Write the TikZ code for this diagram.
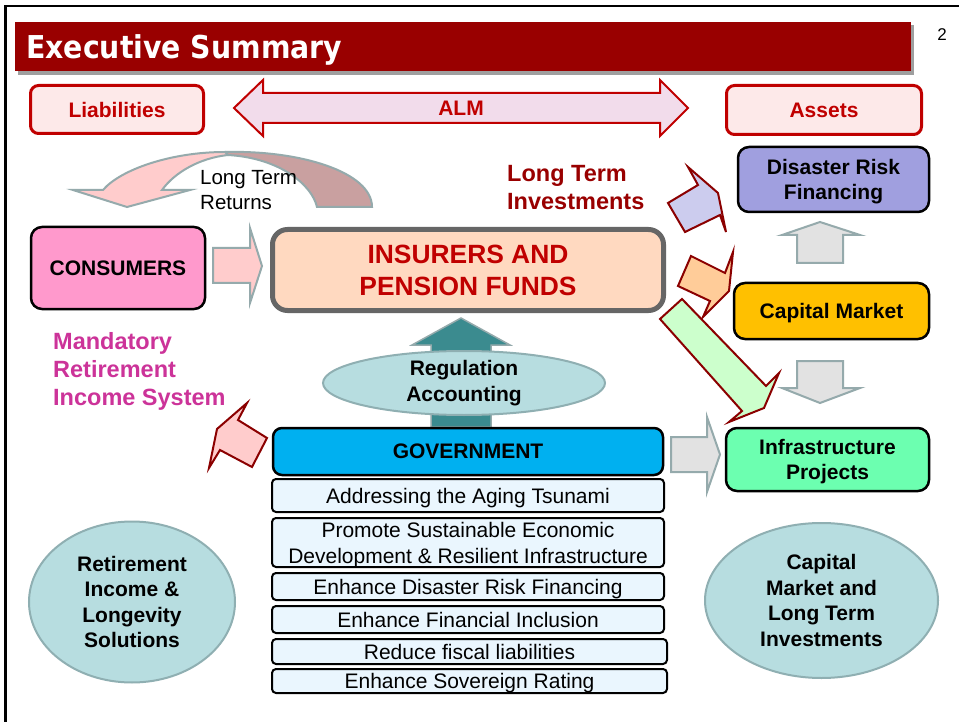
\documentclass[tikz,border=0pt]{standalone}
\usepackage{fontspec}
\setmainfont{Liberation Sans}
\newfontfamily\titlefont[FakeStretch=0.9]{DejaVu Sans}
\usetikzlibrary{shapes.geometric}
\newcommand{\fsz}[2]{\fontsize{#1}{#2}\selectfont}
\definecolor{ctitle}{HTML}{990000}
\definecolor{cred}{HTML}{C00000}
\definecolor{cdarkred}{HTML}{8B0000}
\definecolor{cpinklight}{HTML}{FDE9E9}
\definecolor{calm}{HTML}{F2DCEB}
\definecolor{cdis}{HTML}{A09FDF}
\definecolor{ccap}{HTML}{FFC000}
\definecolor{cinfra}{HTML}{6CFFB0}
\definecolor{ccons}{HTML}{FF99CC}
\definecolor{cins}{HTML}{FFD9C0}
\definecolor{cinsb}{HTML}{666666}
\definecolor{cgov}{HTML}{00B0F0}
\definecolor{clist}{HTML}{EAF6FE}
\definecolor{cell}{HTML}{B7DDE0}
\definecolor{cellb}{HTML}{8FAFB2}
\definecolor{cteal}{HTML}{3B8B8F}
\definecolor{cgreyb}{HTML}{95AAAC}
\definecolor{cgreyf}{HTML}{E2E2E2}
\definecolor{cpinkarr}{HTML}{FFCCCC}
\definecolor{cdarkpink}{HTML}{C9A0A0}
\definecolor{clav}{HTML}{CCCCEE}
\definecolor{corange}{HTML}{FFCC99}
\definecolor{cgreen}{HTML}{CCFFCC}
\definecolor{cmagenta}{HTML}{CC3399}
\begin{document}
\begin{tikzpicture}[x=1pt,y=-1pt,
  rbox/.style={draw=black, line width=2.5pt, rounded corners=11pt, inner sep=0pt, align=center, text depth=0pt, font=\bfseries\fsz{21}{25}},
  redbox/.style={draw=cred, fill=cpinklight, line width=3pt, rounded corners=8pt, inner sep=0pt, text=cred, font=\bfseries\fsz{21}{25}},
  listbox/.style={draw=black, line width=2pt, fill=clist, rounded corners=4pt, inner sep=0pt, align=center, text depth=0pt, font=\fsz{21}{26}},
  ell/.style={ellipse, draw=cellb, fill=cell, line width=2pt, inner sep=0pt, align=center, font=\bfseries\fsz{21}{25.5}},
  arrR/.style={draw=cdarkred, line width=2pt, line join=miter},
  arrG/.style={draw=cgreyb, line width=2pt, line join=miter},
  plain/.style={inner sep=0pt, align=left}
]
\useasboundingbox (0,0) rectangle (959,722);
\fill[white] (0,0) rectangle (959,722);
% frame
\draw[line width=2.5pt] (5.5,722) -- (5.5,6) -- (959,6);
% title bar
\fill[gray!75] (18,25) rectangle (914,75);
\node[fill=ctitle, minimum width=896pt, minimum height=49pt, inner sep=0pt] (title) at (463,46.5) {};
\node[anchor=base west, inner sep=0pt, font=\titlefont\bfseries\fsz{31.5}{36}, text=white] (titletext) at (26,59) {Executive Summary};
\node[font=\fsz{17}{20}] (pnum) at (942,35) {2};
% liabilities / assets
\node[redbox, minimum width=173pt, minimum height=48pt] (liab) at (117,109.5) {Liabilities};
\node[redbox, minimum width=195pt, minimum height=49pt] (assets) at (824,110) {Assets};
% ALM double arrow
\draw[draw=cred, fill=calm, line width=2pt, line join=miter] (234,108) -- (263,80) -- (263,93) -- (660,93) -- (660,80) -- (688,108) -- (660,136) -- (660,123) -- (263,123) -- (263,136) -- cycle;
\node[text=cred, font=\bfseries\fsz{21}{25}] (alm) at (461,108) {ALM};
% curved arrow Long Term Returns
\draw[arrG, fill=cdarkpink] (225,152) .. controls (300,150) and (372,172) .. (372,207) -- (317,207) .. controls (312,185) and (280,158) .. (228,155) -- cycle;
\draw[arrG, fill=cpinkarr] (103,190) -- (73,190) -- (127,207) -- (190,190) -- (162,190) .. controls (175,172) and (200,158) .. (228,155) -- (225,152) .. controls (170,152) and (120,170) .. (103,190) -- cycle;
\node[plain, anchor=north west, font=\fsz{20.5}{25}] (ltr) at (200,170.3) {Long Term\\Returns};
% Long Term Investments
\node[plain, anchor=north west, text=ctitle, font=\bfseries\fsz{23.5}{28}] (lti) at (507,165) {Long Term\\Investments};
% right boxes
\node[rbox, fill=cdis, minimum width=191pt, minimum height=65pt] (dis) at (833.5,179.5) {Disaster Risk\\Financing};
\node[rbox, fill=ccap, minimum width=195pt, minimum height=56pt] (cap) at (831.5,311) {Capital Market};
\node[rbox, fill=cinfra, minimum width=203pt, minimum height=63pt] (infra) at (827.5,459.5) {Infrastructure\\Projects};
% consumers
\node[rbox, fill=ccons, minimum width=174pt, minimum height=82pt] (cons) at (118,268) {CONSUMERS};
% insurers
\node[draw=cinsb, fill=cins, line width=5pt, rounded corners=15pt, inner sep=0pt, align=center, text=cred, font=\bfseries\fsz{26.4}{32}, minimum width=391pt, minimum height=81pt] (ins) at (468,270) {INSURERS AND\\PENSION FUNDS};
% consumers -> insurers arrow
\draw[arrG, fill=cpinkarr] (213,248) -- (250,248) -- (250,228) -- (262,266) -- (250,303) -- (250,283) -- (213,283) -- cycle;
% Mandatory text
\node[plain, anchor=north west, text=cmagenta, font=\bfseries\fsz{23.5}{28}] (mand) at (53,332) {Mandatory\\Retirement\\Income System};
% teal arrow and regulation ellipse
\draw[draw=cgreyb, fill=cteal, line width=1.5pt, line join=miter] (461,318) -- (510,345) -- (491,345) -- (491,427) -- (431,427) -- (431,345) -- (412,345) -- cycle;
\node[ell, minimum width=282pt, minimum height=64pt] (reg) at (464,383) {Regulation\\Accounting};
% government
\node[rbox, fill=cgov, rounded corners=9pt, minimum width=390pt, minimum height=47pt] (gov) at (468,451.5) {GOVERNMENT};
% list
\node[listbox, minimum width=392pt, minimum height=33pt] (l1) at (468,495.5) {Addressing the Aging Tsunami};
\node[listbox, minimum width=392pt, minimum height=49pt] (l2) at (468,542.5) {Promote Sustainable Economic\\Development \& Resilient Infrastructure};
\node[listbox, minimum width=392pt, minimum height=27pt] (l3) at (468,586.5) {Enhance Disaster Risk Financing};
\node[listbox, minimum width=392pt, minimum height=27pt] (l4) at (468,619.5) {Enhance Financial Inclusion};
\node[listbox, minimum width=395pt, minimum height=25pt] (l5) at (469.5,651.5) {Reduce fiscal liabilities};
\node[listbox, minimum width=395pt, minimum height=24pt] (l6) at (469.5,681) {Enhance Sovereign Rating};
% ellipses bottom
\node[ell, minimum width=206pt, minimum height=161pt] (ret) at (132,602) {Retirement\\Income \&\\Longevity\\Solutions};
\node[ell, minimum width=233pt, minimum height=155pt] (cmlt) at (821.5,600.5) {Capital\\Market and\\Long Term\\Investments};
% red-bordered block arrows
\draw[arrR, fill=clav] (668,203) -- (698,185) -- (688,167) -- (718,193) -- (726,232) -- (720,215) -- (685,232) -- cycle;
\draw[arrR, fill=corange] (691,256) -- (725,273) -- (733,252) -- (729,291) -- (703,317) -- (710,301) -- (678,286) -- cycle;
\draw[arrR, fill=cgreen] (682,299) -- (766,386) -- (779,373) -- (764,408) -- (729,422) -- (742,411) -- (660,319) -- cycle;
\draw[arrR, fill=cpinkarr] (267,438) -- (238,420) -- (247,403) -- (217,429) -- (209,468) -- (220,450) -- (252,467) -- cycle;
% grey block arrows
\draw[arrG, fill=cgreyf] (820,222) -- (860,235) -- (843,235) -- (843,263) -- (797,263) -- (797,235) -- (782,235) -- cycle;
\draw[arrG, fill=cgreyf] (797,361) -- (843,361) -- (843,388) -- (860,388) -- (820,403) -- (782,388) -- (797,388) -- cycle;
\draw[arrG, fill=cgreyf] (671,437) -- (707,437) -- (707,417) -- (720,454.5) -- (707,492) -- (707,472) -- (671,472) -- cycle;
\end{tikzpicture}
\end{document}
